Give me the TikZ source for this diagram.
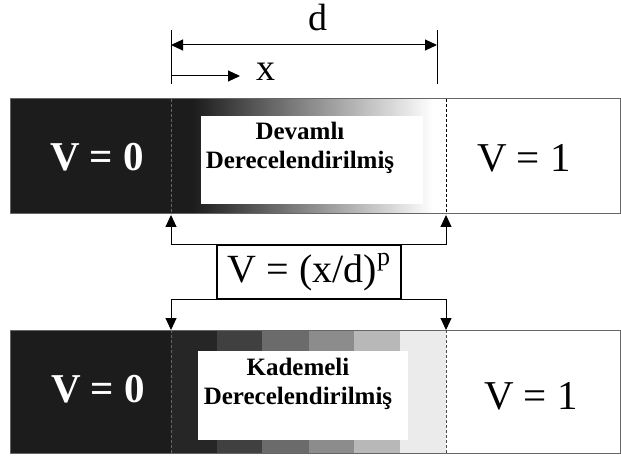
\documentclass[tikz,border=0pt]{standalone}
\usepackage{fontspec}
\setmainfont{Liberation Serif}
\usepackage{xcolor}
\usetikzlibrary{positioning, arrows.meta, calc}

\definecolor{barblack}{HTML}{1C1C1C}

\begin{document}
\begin{tikzpicture}[x=1pt, y=-1pt, >={Triangle[length=12pt,width=11pt]},
    bigtxt/.style={font=\fontsize{41}{41}\selectfont, inner sep=0pt},
    midtxt/.style={font=\bfseries\fontsize{25}{29}\selectfont, align=center, inner sep=0pt},
    lbl/.style={font=\fontsize{38}{38}\selectfont, inner sep=0pt},
    conn/.style={line width=1pt, ->}]
  \useasboundingbox (0,0) rectangle (621,457);

  % ticks and dimension d
  \coordinate (tickLt) at (171,30);
  \coordinate (tickLb) at (171,84);
  \coordinate (tickRt) at (437,30);
  \coordinate (tickRb) at (437,84);
  \draw[line width=0.8pt] (tickLt) -- (tickLb);
  \draw[line width=0.8pt] (tickRt) -- (tickRb);
  \coordinate (dimL) at (171,45);
  \coordinate (dimR) at (437,45);
  \draw[line width=1pt, <->] (dimL) -- (dimR);
  \node[lbl] (dlabel) at (318,18) {d};
  \coordinate (xS) at (171,76);
  \coordinate (xE) at (240,76);
  \draw[conn] (xS) -- (xE);
  \node[lbl] (xlabel) at (266,72) {x};

  % continuous bar
  \fill[barblack] (10,99) rectangle (193,214);
  \shade[left color=barblack, right color=white] (193,99) rectangle (433,214);
  \draw[black!60, line width=1pt] (10,99) rectangle (620,214);
  \fill[white] (201,116) rectangle (423,204);
  \draw[black!60, densely dashed, line width=0.7pt] (171,99) -- (171,214);
  \draw[densely dashed, line width=0.7pt] (446,99) -- (446,214);
  \node[bigtxt, text=white, font=\bfseries\fontsize{41}{41}\selectfont] (zeroA) at (97,157) {V = 0};
  \node[bigtxt] (oneA) at (524,158) {V = 1};
  \node[midtxt] (contA) at (300,148) {Devamlı\\Derecelendirilmiş};

  % stepped bar
  \fill[barblack] (10,330) rectangle (171,453);
  \foreach \xa/\xb/\g in {171/217/85, 217/262/75, 262/309/58, 309/354/45, 354/400/28, 400/446/8}
    \fill[black!\g] (\xa,330) rectangle (\xb,453);
  \draw[black!60, line width=1pt] (10,330) rectangle (620,453);
  \fill[white] (198,351) rectangle (408,440);
  \draw[black!60, densely dashed, line width=0.7pt] (171,330) -- (171,453);
  \draw[black!70, densely dashed, line width=0.7pt] (446,330) -- (446,453);
  \node[bigtxt, text=white, font=\bfseries\fontsize{41}{41}\selectfont] (zeroB) at (98,389) {V = 0};
  \node[bigtxt] (oneB) at (531,396) {V = 1};
  \node[midtxt] (contB) at (298,384) {Kademeli\\Derecelendirilmiş};

  % formula and connectors
  \node[draw, line width=1.6pt, minimum width=184pt, minimum height=54pt, inner sep=0pt,
        font=\fontsize{40}{40}\selectfont] (formula) at (309,272)
        {V = (x/d)\raisebox{0.42em}{\fontsize{26}{26}\selectfont p}};
  \coordinate (upL) at (171,215);
  \coordinate (upR) at (446,215);
  \coordinate (dnL) at (171,330);
  \coordinate (dnR) at (446,330);
  \draw[conn] (formula.north west) -| (upL);
  \draw[conn] (formula.north east) -| (upR);
  \draw[conn] (formula.south west) -| (dnL);
  \draw[conn] (formula.south east) -| (dnR);
\end{tikzpicture}
\end{document}
